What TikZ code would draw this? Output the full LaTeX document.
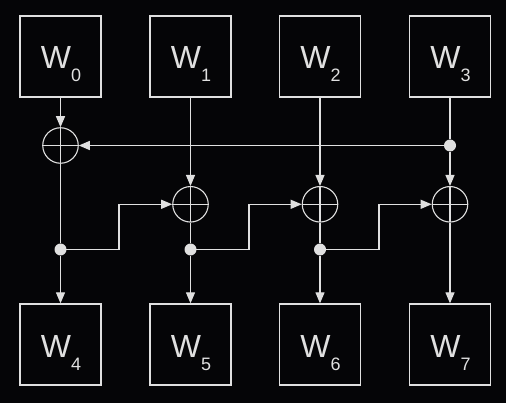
\documentclass[tikz,border=0pt]{standalone}
\usepackage{fontspec}
\setmainfont{Liberation Sans}
\usetikzlibrary{arrows.meta,calc}
\definecolor{bg}{HTML}{050507}
\definecolor{fg}{HTML}{E0E0E0}
\tikzset{
  wbox/.style={draw=fg, line width=1.3pt, minimum width=81pt, minimum height=81pt, inner sep=0pt},
  wlabel/.style={anchor=base, text=fg, inner sep=0pt},
  xor/.style={draw=fg, line width=1.1pt, circle, minimum size=35.5pt, inner sep=0pt,
    path picture={\draw[fg, line width=1.1pt] (path picture bounding box.north) -- (path picture bounding box.south)
      (path picture bounding box.west) -- (path picture bounding box.east);}},
  dotnode/.style={circle, fill=fg, minimum size=12pt, inner sep=0pt},
  conn/.style={draw=fg, line width=1.2pt},
  arr/.style={conn, -{Triangle[length=11pt,width=9pt]}}
}
\newcommand{\wl}[1]{{\fontsize{32}{32}\selectfont W}\raisebox{-13pt}{\fontsize{18}{18}\selectfont #1}}
\begin{document}
\begin{tikzpicture}[x=1pt,y=-1pt]
\fill[bg] (0,0) rectangle (506,403);
\useasboundingbox (0,0) rectangle (506,403);
% top boxes
\foreach \i/\x in {0/60.5,1/190.5,2/320,3/450}{
  \node[wbox] (w\i) at (\x,56.5) {};
  \node[wlabel] (t\i) at ($(w\i)+(0.5,12.5)$) {\wl{\i}};
}
\foreach \i/\x in {4/60.5,5/190.5,6/320,7/450}{
  \node[wbox] (w\i) at (\x,344.5) {};
  \node[wlabel] (t\i) at ($(w\i)+(0.5,13)$) {\wl{\i}};
}
% xors
\node[xor] (x0) at (60.5,145.5) {};
\node[xor] (x1) at (190.5,204.3) {};
\node[xor] (x2) at (320,204.3) {};
\node[xor] (x3) at (450,204.3) {};
% dots
\node[dotnode] (d3) at (450,145.5) {};
\node[dotnode] (d0) at (60.5,249.5) {};
\node[dotnode] (d1) at (190.5,249.5) {};
\node[dotnode] (d2) at (320,249.5) {};
% steps
\coordinate (s0a) at (119,249.5); \coordinate (s0b) at (119,204.3);
\coordinate (s1a) at (249,249.5); \coordinate (s1b) at (249,204.3);
\coordinate (s2a) at (379,249.5); \coordinate (s2b) at (379,204.3);
% connectors
\draw[arr] (w0) -- (x0);
\draw[arr] (w1) -- (x1);
\draw[arr] (w2) -- (x2);
\draw[conn] (w3.south) -- (d3);
\draw[arr] (d3) -- (x3);
\draw[arr] (d3) -- (x0);
\draw[conn] (x0.south) -- (d0);
\draw[conn] (x1.south) -- (d1);
\draw[conn] (x2.south) -- (d2);
\draw[arr] (d0) -- (w4);
\draw[arr] (d1) -- (w5);
\draw[arr] (d2) -- (w6);
\draw[arr] (x3) -- (w7);
\draw[arr] (d0.center) -- (s0a) -- (s0b) -- (x1.west);
\draw[arr] (d1.center) -- (s1a) -- (s1b) -- (x2.west);
\draw[arr] (d2.center) -- (s2a) -- (s2b) -- (x3.west);
\end{tikzpicture}
\end{document}
